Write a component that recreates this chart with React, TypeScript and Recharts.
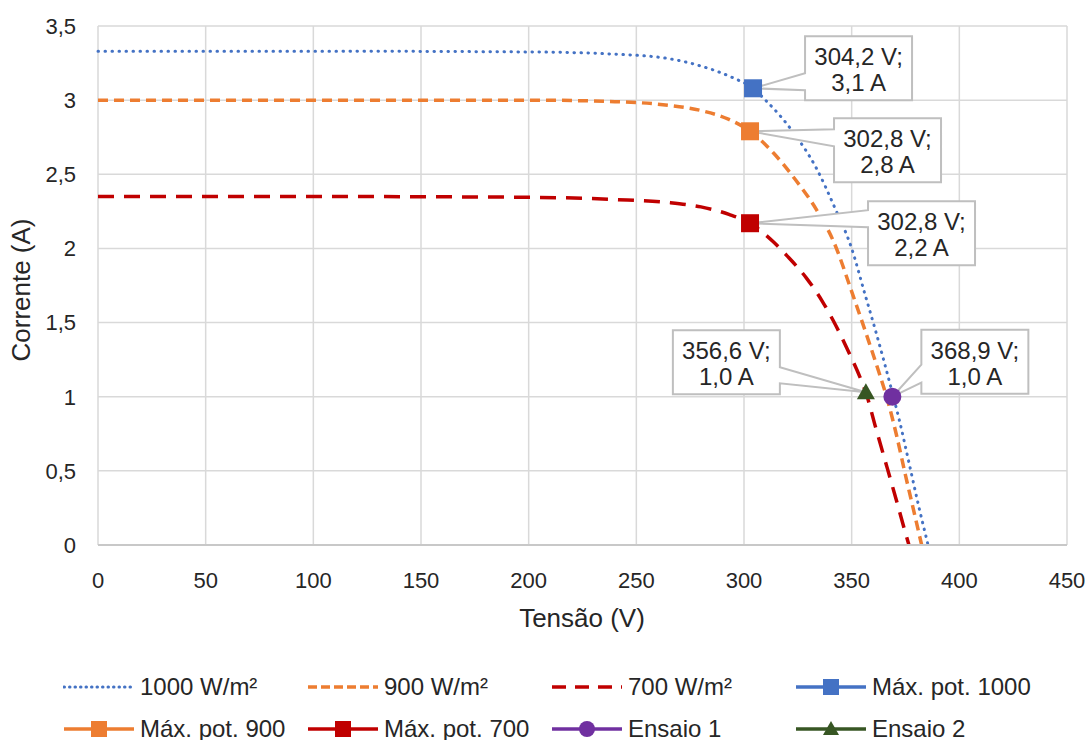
import { ComposedChart, Line, Scatter, XAxis, YAxis, CartesianGrid } from 'recharts'

// I-V curves (V, A)
const curve1000 = [
  { v: 0, i: 3.33 }, { v: 100, i: 3.33 }, { v: 200, i: 3.325 }, { v: 240, i: 3.31 },
  { v: 265, i: 3.28 }, { v: 280, i: 3.23 }, { v: 295, i: 3.15 }, { v: 304.2, i: 3.08 },
  { v: 310, i: 3.0 }, { v: 322, i: 2.8 }, { v: 334, i: 2.53 }, { v: 342, i: 2.28 },
  { v: 350, i: 2.0 }, { v: 356, i: 1.7 }, { v: 361, i: 1.45 }, { v: 365, i: 1.24 },
  { v: 369, i: 1.02 }, { v: 372, i: 0.85 }, { v: 377, i: 0.53 }, { v: 381, i: 0.27 },
  { v: 385.5, i: 0 },
]
const curve900 = [
  { v: 0, i: 3.0 }, { v: 100, i: 3.0 }, { v: 200, i: 3.0 }, { v: 240, i: 2.99 },
  { v: 265, i: 2.965 }, { v: 280, i: 2.93 }, { v: 293, i: 2.87 }, { v: 302.8, i: 2.79 },
  { v: 313.6, i: 2.645 }, { v: 323, i: 2.48 }, { v: 333.7, i: 2.26 }, { v: 341.5, i: 2.05 },
  { v: 350.7, i: 1.68 }, { v: 358, i: 1.37 }, { v: 363, i: 1.15 }, { v: 367, i: 0.96 },
  { v: 371, i: 0.73 }, { v: 375, i: 0.47 }, { v: 379, i: 0.22 }, { v: 382.5, i: 0 },
]
const curve700 = [
  { v: 0, i: 2.35 }, { v: 100, i: 2.35 }, { v: 200, i: 2.345 }, { v: 240, i: 2.33 },
  { v: 265, i: 2.31 }, { v: 280, i: 2.28 }, { v: 293, i: 2.23 }, { v: 302.8, i: 2.17 },
  { v: 313.6, i: 2.045 }, { v: 320, i: 1.95 }, { v: 329, i: 1.8 }, { v: 336.5, i: 1.64 },
  { v: 343, i: 1.47 }, { v: 348, i: 1.32 }, { v: 353.9, i: 1.13 }, { v: 357, i: 1.01 },
  { v: 361, i: 0.8 }, { v: 366.5, i: 0.52 }, { v: 371, i: 0.29 }, { v: 375, i: 0.08 },
  { v: 376.6, i: 0 },
]

const maxPot1000 = [{ v: 304.2, i: 3.08 }]
const maxPot900 = [{ v: 302.8, i: 2.79 }]
const maxPot700 = [{ v: 302.8, i: 2.17 }]
const ensaio1 = [{ v: 368.9, i: 1.0 }]
const ensaio2 = [{ v: 356.6, i: 1.03 }]

const xTicks = [0, 50, 100, 150, 200, 250, 300, 350, 400, 450]
const yTicks = [0, 0.5, 1, 1.5, 2, 2.5, 3, 3.5]

const FONT = '"Liberation Sans", Arial, sans-serif'
const TEXT = '#262626'
const BLUE = '#4472C4'
const ORANGE = '#ED7D31'
const RED = '#C00000'
const PURPLE = '#7030A0'
const GREEN = '#375623'

const comma = (n: number, d: number) => n.toFixed(d).replace('.', ',')

// callout box placement relative to the marker: dx/dy to top-left, wedge on left or right side
type Callout = { dx: number; dy: number; side: 'left' | 'right'; w0: number; w1: number }

function makeShape(kind: 'square' | 'circle' | 'triangle', color: string, c: Callout) {
  return (props: any) => {
    const { cx, cy, payload } = props
    if (cx == null || cy == null) return <g />
    const w = 107
    const h = 64
    const bx = cx + c.dx
    const by = cy + c.dy
    const path =
      c.side === 'left'
        ? `M${bx},${by} H${bx + w} V${by + h} H${bx} V${by + c.w1} L${cx},${cy} L${bx},${by + c.w0} Z`
        : `M${bx},${by} H${bx + w} V${by + c.w0} L${cx},${cy} L${bx + w},${by + c.w1} V${by + h} H${bx} Z`
    let marker
    if (kind === 'square') marker = <rect x={cx - 9} y={cy - 9} width={18} height={18} fill={color} />
    else if (kind === 'circle') marker = <circle cx={cx} cy={cy} r={9} fill={color} />
    else marker = <polygon points={`${cx},${cy - 9} ${cx + 9},${cy + 7} ${cx - 9},${cy + 7}`} fill={color} />
    return (
      <g>
        <path d={path} fill="#fff" stroke="#BFBFBF" strokeWidth={2} />
        {marker}
        <text x={bx + w / 2} y={by + 29} textAnchor="middle" fontSize={24} fontFamily={FONT} fill={TEXT}>
          {`${comma(payload.v, 1)} V;`}
        </text>
        <text x={bx + w / 2} y={by + 55} textAnchor="middle" fontSize={24} fontFamily={FONT} fill={TEXT}>
          {`${comma(payload.i, 1)} A`}
        </text>
      </g>
    )
  }
}

const legendItems = [
  { name: '1000 W/m²', color: BLUE, dash: '0.5 5', width: 3, marker: '' },
  { name: '900 W/m²', color: ORANGE, dash: '9 4', width: 3.5, marker: '' },
  { name: '700 W/m²', color: RED, dash: '14 9', width: 3.5, marker: '' },
  { name: 'Máx. pot. 1000', color: BLUE, dash: '', width: 3.5, marker: 'square' },
  { name: 'Máx. pot. 900', color: ORANGE, dash: '', width: 3.5, marker: 'square' },
  { name: 'Máx. pot. 700', color: RED, dash: '', width: 3.5, marker: 'square' },
  { name: 'Ensaio 1', color: PURPLE, dash: '', width: 3.5, marker: 'circle' },
  { name: 'Ensaio 2', color: GREEN, dash: '', width: 3.5, marker: 'triangle' },
]

function LegendIcon({ item }: { item: (typeof legendItems)[number] }) {
  return (
    <svg width={72} height={20} style={{ display: 'block' }}>
      <line x1={1} y1={10} x2={71} y2={10} stroke={item.color} strokeWidth={item.width}
        strokeDasharray={item.dash || undefined} strokeLinecap={item.dash === '0.5 5' ? 'round' : 'butt'} />
      {item.marker === 'square' && <rect x={28} y={2} width={16} height={16} fill={item.color} />}
      {item.marker === 'circle' && <circle cx={36} cy={10} r={8} fill={item.color} />}
      {item.marker === 'triangle' && <polygon points="36,2 44,16 28,16" fill={item.color} />}
    </svg>
  )
}

function ChartLegend() {
  const cols = [63, 307, 551, 795]
  const rows = [687, 729]
  return (
    <>
      {legendItems.map((item, k) => (
        <div key={item.name} style={{
          position: 'absolute', left: cols[k % 4], top: rows[Math.floor(k / 4)] - 10,
          display: 'flex', alignItems: 'center', height: 20,
        }}>
          <LegendIcon item={item} />
          <span style={{ marginLeft: 5, fontFamily: FONT, fontSize: 24, color: TEXT, whiteSpace: 'nowrap', lineHeight: '20px' }}>
            {item.name}
          </span>
        </div>
      ))}
    </>
  )
}

const XTitle = () => (
  <text x={582} y={627} textAnchor="middle" fontSize={26} fontFamily={FONT} fill={TEXT}>Tensão (V)</text>
)
const YTitle = () => (
  <text x={0} y={0} transform="translate(30 290) rotate(-90)" textAnchor="middle" fontSize={26} fontFamily={FONT} fill={TEXT}>
    Corrente (A)
  </text>
)

export default function App() {
  return (
    <div style={{ position: 'absolute', left: 0, top: 0, width: 1091, height: 740, background: '#fff' }}>
      <ComposedChart width={1091} height={740} margin={{ top: 26, right: 24, left: 0, bottom: 0 }}>
        <CartesianGrid stroke="#D9D9D9" strokeWidth={1.5} />
        <XAxis
          type="number"
          dataKey="v"
          domain={[0, 450]}
          ticks={xTicks}
          height={195}
          tickLine={false}
          tickMargin={21}
          axisLine={{ stroke: '#C8C8C8', strokeWidth: 2 }}
          tick={{ fontSize: 22, fill: TEXT, fontFamily: FONT }}
          label={{ content: XTitle }}
        />
        <YAxis
          type="number"
          domain={[0, 3.5]}
          ticks={yTicks}
          width={98}
          tickLine={false}
          tickMargin={16}
          axisLine={false}
          tickFormatter={(t: number) => String(t).replace('.', ',')}
          tick={{ fontSize: 22, fill: TEXT, fontFamily: FONT }}
          label={{ content: YTitle }}
        />
        <Line data={curve1000} dataKey="i" type="monotone" stroke={BLUE} strokeWidth={3}
          strokeDasharray="0.5 6.5" strokeLinecap="round" dot={false} isAnimationActive={false} />
        <Line data={curve900} dataKey="i" type="monotone" stroke={ORANGE} strokeWidth={3.5}
          strokeDasharray="10 6" dot={false} isAnimationActive={false} />
        <Line data={curve700} dataKey="i" type="monotone" stroke={RED} strokeWidth={3.5}
          strokeDasharray="16 10" dot={false} isAnimationActive={false} />
        <Scatter data={maxPot1000} dataKey="i" isAnimationActive={false}
          shape={makeShape('square', BLUE, { dx: 52, dy: -52, side: 'left', w0: 37, w1: 54 })} />
        <Scatter data={maxPot900} dataKey="i" isAnimationActive={false}
          shape={makeShape('square', ORANGE, { dx: 84, dy: -13, side: 'left', w0: 11, w1: 28 })} />
        <Scatter data={maxPot700} dataKey="i" isAnimationActive={false}
          shape={makeShape('square', RED, { dx: 118, dy: -22, side: 'left', w0: 9, w1: 26 })} />
        <Scatter data={ensaio2} dataKey="i" isAnimationActive={false}
          shape={makeShape('triangle', GREEN, { dx: -193, dy: -62, side: 'right', w0: 37, w1: 53 })} />
        <Scatter data={ensaio1} dataKey="i" isAnimationActive={false}
          shape={makeShape('circle', PURPLE, { dx: 29, dy: -67, side: 'left', w0: 35, w1: 53 })} />
      </ComposedChart>
      <ChartLegend />
    </div>
  )
}
